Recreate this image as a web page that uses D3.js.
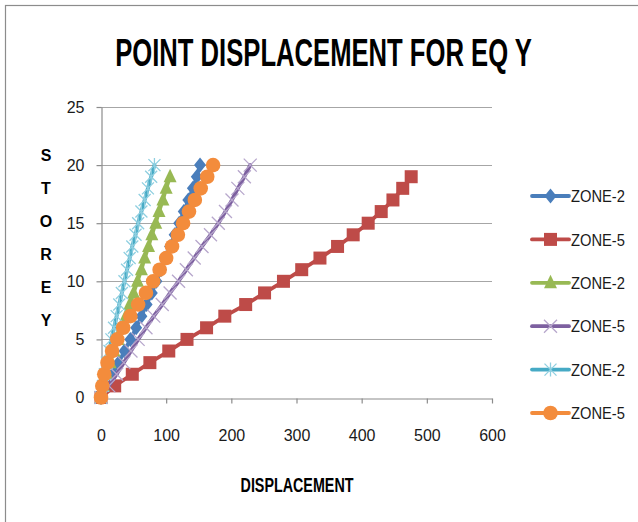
<!DOCTYPE html>
<html><head><meta charset="utf-8">
<script src="https://cdn.jsdelivr.net/npm/d3@7/dist/d3.min.js"></script>
<style>body{margin:0;background:#fff}</style>
</head><body>
<svg id="c" width="638" height="522"></svg>
<script>
// ---- data ----
const storeys20 = [0,1,2,3,4,5,6,7,8,9,10,11,12,13,14,15,16,17,18,19,20];
const storeys19 = [0,1,2,3,4,5,6,7,8,9,10,11,12,13,14,15,16,17,18,19];
const seriesNames = ["ZONE-2","ZONE-5","ZONE-2","ZONE-5","ZONE-2","ZONE-5"];
const zone2Diamond  = [0,9,18,27,36,45,54,62,70,78,85,92,99,106,113,120,127,134,141,147,152];
const zone5Square   = [0,21,48,75,104,132,162,190,222,251,280,308,336,363,387,410,430,448,463,476];
const zone2Triangle = [0,4,9,14,20,26,32,38,44,50,56,62,67,73,78,84,89,95,100,106];
const zone5Cross    = [0,12,24,35,46,57,69,81,94,106,119,131,143,155,168,180,191,201,210,220,229];
const zone2Star     = [0,3,6,9,13,16,20,24,28,32,36,40,44,48,53,57,62,67,72,77,82];
const zone5Circle   = [0,2,5,10,17,25,34,45,57,69,80,90,100,109,118,126,135,144,153,163,172];
const xTicks = [0,100,200,300,400,500,600];
const yTicks = [0,5,10,15,20,25];
const titleText = "POINT DISPLACEMENT FOR EQ Y";
const xTitle = "DISPLACEMENT";
const yTitle = "STOREY";

const series = [
  {name: seriesNames[0], x: zone2Diamond,  y: storeys20, color: "#4A7EBB", marker: "diamond"},
  {name: seriesNames[1], x: zone5Square,   y: storeys19, color: "#BE4B48", marker: "square"},
  {name: seriesNames[2], x: zone2Triangle, y: storeys19, color: "#98B954", marker: "triangle"},
  {name: seriesNames[3], x: zone5Cross,    y: storeys20, color: "#7D60A0", marker: "x", mcolor: "#B7A7CC"},
  {name: seriesNames[4], x: zone2Star,     y: storeys20, color: "#46AAC5", marker: "star", mcolor: "#8FCFE0"},
  {name: seriesNames[5], x: zone5Circle,   y: storeys20, color: "#F38C3C", marker: "circle"}
];

const svg = d3.select("#c");
const font = "'Liberation Sans Narrow','Liberation Sans',Arial,sans-serif";

// border
svg.append("rect").attr("x",5.5).attr("y",5.5).attr("width",640).attr("height",530)
  .attr("fill","#fff").attr("stroke","#8c8c8c").attr("stroke-width",1.2);

const x = d3.scaleLinear().domain([0,600]).range([101,492]);
const y = d3.scaleLinear().domain([0,25]).range([397.5,107]);

// gridlines
svg.append("g").selectAll("line").data(yTicks.filter(d=>d>0)).join("line")
  .attr("x1",x(0)).attr("x2",x(600)).attr("y1",d=>Math.round(y(d))+0.5).attr("y2",d=>Math.round(y(d))+0.5)
  .attr("stroke","#a6a6a6").attr("stroke-width",1.2);

// axes
const gx = svg.append("g").attr("transform",`translate(0,${Math.round(y(0))+0.5})`)
  .call(d3.axisBottom(x).tickValues(xTicks).tickSize(5).tickSizeOuter(0).tickFormat(d3.format("d")));
const gy = svg.append("g").attr("transform",`translate(${Math.round(x(0))+0.5},0)`)
  .call(d3.axisLeft(y).tickValues(yTicks).tickSize(5).tickSizeOuter(0).tickFormat(d3.format("d")));
[gx,gy].forEach(g=>{
  g.select(".domain").attr("stroke","#8c8c8c").attr("stroke-width",1.2);
  g.selectAll(".tick line").attr("stroke","#8c8c8c").attr("stroke-width",1.2);
  g.selectAll(".tick text").attr("fill","#1a1a1a").style("font-family","'Liberation Sans',Arial,sans-serif").style("font-size","16px");
});
gx.selectAll(".tick text").attr("y",31).attr("dy","0.71em");
gy.selectAll(".tick text").attr("x",-17);

// marker drawing
function drawMarker(g, type, color, mcolor, cx, cy) {
  if (type === "diamond") {
    g.append("path").attr("d",`M${cx},${cy-7.5}L${cx+6},${cy}L${cx},${cy+7.5}L${cx-6},${cy}Z`).attr("fill",color);
  } else if (type === "square") {
    g.append("rect").attr("x",cx-6.5).attr("y",cy-6.5).attr("width",13).attr("height",13).attr("fill",color);
  } else if (type === "triangle") {
    g.append("path").attr("d",`M${cx},${cy-8}L${cx+6.5},${cy+5.5}L${cx-6.5},${cy+5.5}Z`).attr("fill",color);
  } else if (type === "circle") {
    g.append("circle").attr("cx",cx).attr("cy",cy).attr("r",7.3).attr("fill",color);
  } else if (type === "x") {
    g.append("path").attr("d",`M${cx-6.5},${cy-6.5}L${cx+6.5},${cy+6.5}M${cx+6.5},${cy-6.5}L${cx-6.5},${cy+6.5}`)
      .attr("stroke",mcolor).attr("stroke-width",1.3).attr("fill","none");
  } else if (type === "star") {
    g.append("path").attr("d",`M${cx-6},${cy-6}L${cx+6},${cy+6}M${cx+6},${cy-6}L${cx-6},${cy+6}M${cx},${cy-7}L${cx},${cy+7}`)
      .attr("stroke",mcolor).attr("stroke-width",1.3).attr("fill","none");
  }
}

const line = d3.line().x(d=>x(d[0])).y(d=>y(d[1]));
series.forEach(s => {
  const g = svg.append("g");
  const pts = s.x.map((v,i)=>[v, s.y[i]]);
  g.append("path").datum(pts).attr("d",line).attr("fill","none")
    .attr("stroke",s.color).attr("stroke-width",3.8).attr("stroke-linejoin","round").attr("stroke-linecap","round");
  pts.forEach(p => drawMarker(g, s.marker, s.color, s.mcolor, x(p[0]), y(p[1])));
});

// helper: horizontally squeeze a text to a target width
function fitText(sel, cx, cy, target, anchor) {
  const w = sel.node().getComputedTextLength();
  const k = Math.min(1, target / w);
  sel.attr("x",0).attr("y",0).attr("transform",`translate(${cx},${cy}) scale(${k},1)`);
}

// legend
const legY = d3.scalePoint().domain(d3.range(series.length)).range([196,413]);
series.forEach((s,i) => {
  const g = svg.append("g");
  const ly = legY(i);
  g.append("line").attr("x1",532).attr("x2",569).attr("y1",ly).attr("y2",ly)
    .attr("stroke",s.color).attr("stroke-width",3.8).attr("stroke-linecap","round");
  drawMarker(g, s.marker, s.color, s.mcolor, 550.5, ly);
  const t = g.append("text").attr("dy","0.36em")
    .style("font-family","'Liberation Sans',Arial,sans-serif").style("font-size","17px").attr("fill","#1a1a1a")
    .text(s.name);
  fitText(t, 571, ly, 54);
});

// titles
const tt = svg.append("text").attr("text-anchor","middle")
  .style("font-family",font).style("font-weight","bold").style("font-size","38.5px").attr("fill","#000")
  .text(titleText);
fitText(tt, 323.5, 66, 417);
const xt = svg.append("text").attr("text-anchor","middle")
  .style("font-family",font).style("font-weight","bold").style("font-size","19.5px").attr("fill","#000")
  .text(xTitle);
fitText(xt, 297, 491.5, 113);
const yl = svg.append("text").style("font-family","'Liberation Sans',Arial,sans-serif").style("font-weight","bold")
  .style("font-size","16px").attr("fill","#000").attr("text-anchor","middle");
yTitle.split("").forEach((ch,i)=>{
  yl.append("tspan").attr("x",46).attr("y",155 + i*33).attr("dy","0.36em").text(ch);
});
</script>
</body></html>
